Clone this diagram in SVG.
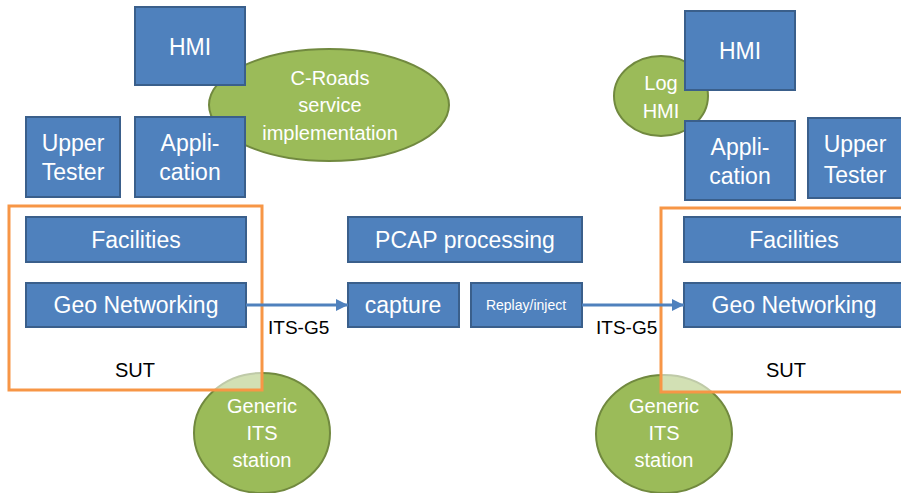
<svg xmlns="http://www.w3.org/2000/svg" width="901" height="493" viewBox="0 0 901 493">
<style>
.box{fill:#4F81BD;stroke:#3A5F8B;stroke-width:2}
.ell{fill:#9BBB59;stroke:#71893F;stroke-width:2}
.sut{fill:#FFFFFF;fill-opacity:0.55;stroke:#F79646;stroke-width:3}
.t{font-family:"Liberation Sans",Arial,sans-serif;fill:#FFFFFF;text-anchor:middle}
.b{font-size:23px}
.e{font-size:20px}
.k{font-family:"Liberation Sans",Arial,sans-serif;fill:#000000}
.conn{stroke:#4F81BD;stroke-width:3;fill:none}
</style>
<defs>
<marker id="arr" markerUnits="userSpaceOnUse" markerWidth="12" markerHeight="12" refX="12" refY="6" orient="auto">
<path d="M0,0 L12,6 L0,12 z" fill="#4F81BD"/>
</marker>
</defs>
<rect width="901" height="493" fill="#FFFFFF"/>

<!-- Left side -->
<g id="croads">
<ellipse class="ell" cx="329" cy="105" rx="120" ry="56"/>
<text class="t e" x="330" y="85">C-Roads</text>
<text class="t e" x="330" y="112">service</text>
<text class="t e" x="330" y="140">implementation</text>
</g>
<g id="hmi-left">
<rect class="box" x="135" y="7" width="110" height="78"/>
<text class="t b" x="190" y="55">HMI</text>
</g>
<g id="upper-tester-left">
<rect class="box" x="26" y="117" width="94" height="80"/>
<text class="t b" x="73" y="151">Upper</text>
<text class="t b" x="73" y="180">Tester</text>
</g>
<g id="application-left">
<rect class="box" x="135" y="117" width="110" height="80"/>
<text class="t b" x="190" y="151">Appli-</text>
<text class="t b" x="190" y="180">cation</text>
</g>
<g id="generic-its-left">
<ellipse class="ell" cx="262" cy="433" rx="68" ry="60"/>
<text class="t e" x="262" y="413">Generic</text>
<text class="t e" x="262" y="440">ITS</text>
<text class="t e" x="262" y="467">station</text>
</g>
<g id="sut-left">
<rect class="sut" x="9" y="206" width="253" height="184"/>
<text class="k" x="135" y="377" font-size="20" text-anchor="middle">SUT</text>
</g>
<g id="facilities-left">
<rect class="box" x="26" y="217" width="220" height="45"/>
<text class="t b" x="136" y="248">Facilities</text>
</g>
<g id="geonet-left">
<rect class="box" x="26" y="283" width="220" height="44"/>
<text class="t b" x="136" y="313">Geo Networking</text>
</g>

<!-- Middle -->
<g id="pcap">
<rect class="box" x="348" y="217" width="234" height="45"/>
<text class="t b" x="465" y="248">PCAP processing</text>
</g>
<g id="capture">
<rect class="box" x="348" y="283" width="111" height="44"/>
<text class="t b" x="403" y="313">capture</text>
</g>
<g id="replay">
<rect class="box" x="471" y="283" width="111" height="44"/>
<text class="t" x="526" y="310" font-size="14">Replay/inject</text>
</g>

<!-- Right side -->
<g id="loghmi">
<ellipse class="ell" cx="661" cy="96" rx="47" ry="40"/>
<text class="t e" x="661" y="90">Log</text>
<text class="t e" x="661" y="118">HMI</text>
</g>
<g id="hmi-right">
<rect class="box" x="685" y="11" width="110" height="79"/>
<text class="t b" x="740" y="59">HMI</text>
</g>
<g id="application-right">
<rect class="box" x="685" y="121" width="110" height="79"/>
<text class="t b" x="740" y="155">Appli-</text>
<text class="t b" x="740" y="184">cation</text>
</g>
<g id="upper-tester-right">
<rect class="box" x="808" y="118" width="94" height="80"/>
<text class="t b" x="855" y="152">Upper</text>
<text class="t b" x="855" y="183">Tester</text>
</g>
<g id="generic-its-right">
<ellipse class="ell" cx="664" cy="434" rx="68" ry="59"/>
<text class="t e" x="664" y="413">Generic</text>
<text class="t e" x="664" y="440">ITS</text>
<text class="t e" x="664" y="467">station</text>
</g>
<g id="sut-right">
<rect class="sut" x="661" y="208" width="250" height="184"/>
<text class="k" x="786" y="377" font-size="20" text-anchor="middle">SUT</text>
</g>
<g id="facilities-right">
<rect class="box" x="684" y="217" width="220" height="45"/>
<text class="t b" x="794" y="248">Facilities</text>
</g>
<g id="geonet-right">
<rect class="box" x="684" y="283" width="220" height="44"/>
<text class="t b" x="794" y="313">Geo Networking</text>
</g>

<!-- Connectors -->
<g id="connectors">
<line class="conn" x1="246" y1="305" x2="348" y2="305" marker-end="url(#arr)"/>
<line class="conn" x1="582" y1="305" x2="684" y2="305" marker-end="url(#arr)"/>
<text class="k" x="268" y="334" font-size="19">ITS-G5</text>
<text class="k" x="596" y="334" font-size="19">ITS-G5</text>
</g>
</svg>
